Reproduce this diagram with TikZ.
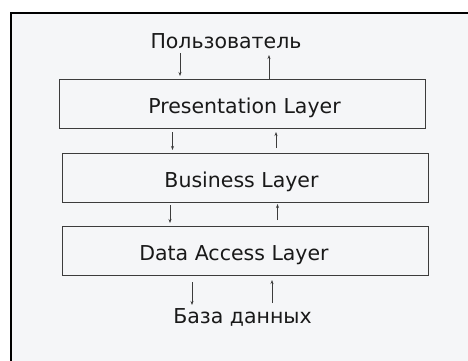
\documentclass[tikz,border=0pt]{standalone}
\usepackage{fontspec}
\setmainfont{DejaVu Sans}
\usetikzlibrary{arrows.meta}
\definecolor{panel}{RGB}{245,246,248}
\definecolor{edge}{RGB}{60,60,60}
\definecolor{ink}{RGB}{25,25,25}
\tikzset{
  layer/.style={draw=edge, line width=0.9pt, fill=panel, minimum width=366pt,
    minimum height=49pt, inner sep=0pt},
  caption/.style={text=ink, font=\fontsize{20.5}{24}\selectfont, inner sep=0pt, anchor=base},
  flow/.style={draw=edge, line width=0.7pt, -{Stealth[length=4pt,width=3pt]}},
}
\begin{document}
\begin{tikzpicture}[x=1pt,y=-1pt]
  \useasboundingbox (0,0) rectangle (468,360);
  \clip (0,0) rectangle (468,360);
  % outer frame, running past the right and bottom edges
  \fill[white] (0,0) rectangle (468,360);
  \draw[line width=2.4pt, fill=panel] (11,13) rectangle (480,372);

  % the three layers
  \node[layer] (pres) at (242,103.5) {};
  \node[caption] (prestext) at (244.5,113.3) {Presentation Layer};
  \node[layer] (bus) at (245,177.5) {};
  \node[caption] (bustext) at (241.5,187.3) {Business Layer};
  \node[layer] (dal) at (245,250.5) {};
  \node[caption] (daltext) at (234,260.3) {Data Access Layer};

  % endpoints outside the layers
  \node[caption] (user) at (226,48) {Пользователь};
  \node[caption] (db) at (242.5,323) {База данных};

  % user <-> presentation
  \coordinate (a1) at (180,53);  \coordinate (a2) at (180,76);
  \coordinate (b1) at (269,76);  \coordinate (b2) at (269,55);
  \draw[flow] (a1) -- (a2);
  \draw[flow] (b1 |- pres.north) -- (b2);

  % presentation <-> business
  \coordinate (c1) at (172.5,132); \coordinate (c2) at (172.5,150);
  \coordinate (d1) at (276,148);   \coordinate (d2) at (276,132);
  \draw[flow] (c1) -- (c2);
  \draw[flow] (d1) -- (d2);

  % business <-> data access
  \coordinate (e1) at (170,205);   \coordinate (e2) at (170,223);
  \coordinate (f1) at (277.5,220); \coordinate (f2) at (277.5,204);
  \draw[flow] (e1) -- (e2);
  \draw[flow] (f1) -- (f2);

  % data access <-> database
  \coordinate (g1) at (192,282);   \coordinate (g2) at (192,305);
  \coordinate (h1) at (272,303);   \coordinate (h2) at (272,280);
  \draw[flow] (g1) -- (g2);
  \draw[flow] (h1) -- (h2);
\end{tikzpicture}
\end{document}
